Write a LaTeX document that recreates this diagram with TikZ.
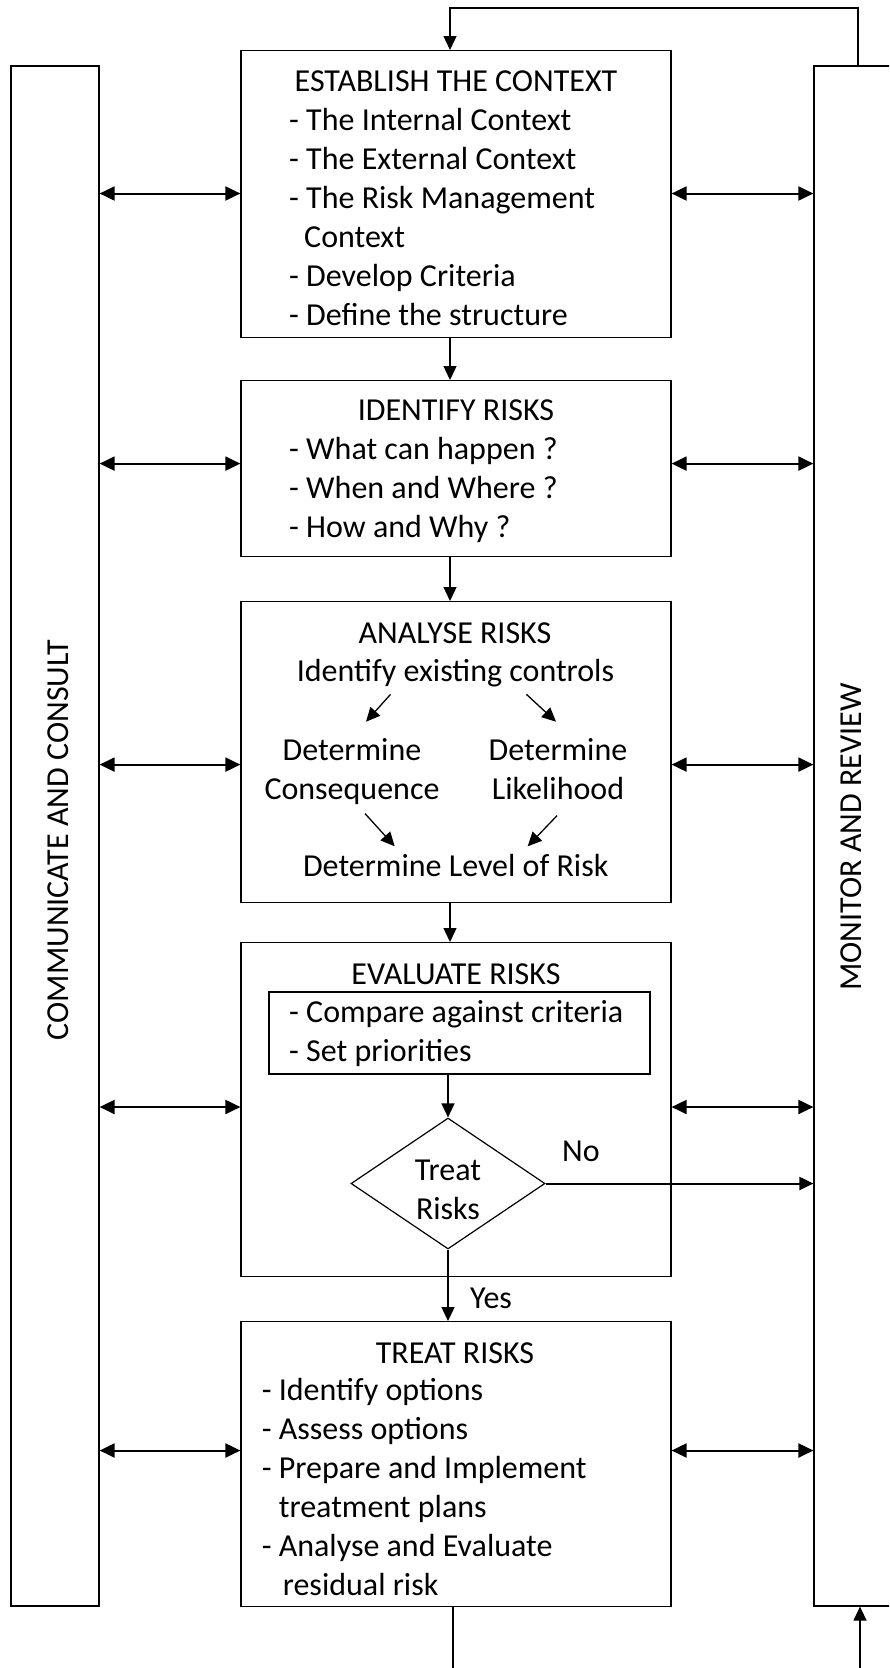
\documentclass[tikz,border=0pt]{standalone}
\usepackage{fontspec}
\setmainfont{Carlito}
\usetikzlibrary{arrows.meta,positioning,calc,shapes.geometric}
\tikzset{
  bodyfont/.style={font=\fontsize{32}{39}\selectfont},
  stagebox/.style={
    draw,
    line width=1.2pt,
    minimum width=430pt,
    inner sep=0pt,
    anchor=north
  },
  sidebar/.style={
    draw,
    line width=1.2pt,
    minimum width=88pt,
    minimum height=1540pt,
    inner sep=0pt
  },
  headtext/.style={bodyfont, inner sep=0pt, anchor=base},
  listtext/.style={bodyfont, inner sep=0pt, align=left, anchor=north west},
  pairtext/.style={bodyfont, inner sep=0pt, align=center, anchor=north},
  decision/.style={
    diamond,
    draw,
    line width=1.2pt,
    inner sep=0pt,
    minimum width=194pt,
    minimum height=131pt
  },
  flowarrow/.style={-{Triangle[length=14pt,width=13pt]}, line width=1.3pt},
  twoway/.style={{Triangle[length=15pt,width=14pt]}-{Triangle[length=15pt,width=14pt]}, line width=2pt}
}

\begin{document}
\begin{tikzpicture}[x=1pt,y=-1pt]
  \path[use as bounding box,clip] (0,0) rectangle (889,1668);

  % side bars
  \node[sidebar] (communicate) at (55,836) {};
  \node[sidebar] (monitor) at (858,836) {};
  \node[bodyfont,rotate=90] (commlabel) at (58,840) {COMMUNICATE AND CONSULT};
  \node[bodyfont,rotate=90] (monlabel) at (851,837) {MONITOR AND REVIEW};

  % process boxes
  \node[stagebox,minimum height=287pt] (context) at (456,50) {};
  \node[stagebox,minimum height=176pt] (identify) at (456,380) {};
  \node[stagebox,minimum height=301pt] (analyse) at (456,601) {};
  \node[stagebox,minimum height=334pt] (evaluate) at (456,942) {};
  \node[stagebox,minimum height=285pt] (treat) at (456,1321) {};

  % establish the context
  \node[headtext] (contexthead) at (456,91.7) {ESTABLISH THE CONTEXT};
  \node[listtext] (contextlist) at (289,102.7)
    {\strut- The Internal Context\\- The External Context\\- The Risk Management\\\hspace*{15pt}Context\\- Develop Criteria\\- Define the structure};

  % identify risks
  \node[headtext] (identifyhead) at (456,420) {IDENTIFY RISKS};
  \node[listtext] (identifylist) at (289,431.7)
    {\strut- What can happen ?\\- When and Where ?\\- How and Why ?};

  % analyse risks
  \node[headtext] (analysehead) at (455,643) {ANALYSE RISKS};
  \node[headtext] (controls) at (455.5,681.7) {Identify existing controls};
  \node[pairtext] (conseq) at (352,732.7) {\strut Determine\\Consequence};
  \node[pairtext] (likely) at (558,732.7) {\strut Determine\\Likelihood};
  \node[headtext] (level) at (455.7,876.7) {Determine Level of Risk};
  \draw[flowarrow] ([xshift=-65pt,yshift=-7pt]controls.south) -- ([xshift=14pt,yshift=11pt]conseq.north);
  \draw[flowarrow] ([xshift=71pt,yshift=-7pt]controls.south) -- ([xshift=-2pt,yshift=11pt]likely.north);
  \draw[flowarrow] ([xshift=13pt,yshift=-9pt]conseq.south) -- ([xshift=-61pt,yshift=8pt]level.north);
  \draw[flowarrow] ([xshift=-1pt,yshift=-16pt]likely.south) -- ([xshift=72pt,yshift=8pt]level.north);

  % evaluate risks
  \node[headtext] (evaluatehead) at (456,984) {EVALUATE RISKS};
  \node[draw,line width=1.2pt,minimum width=381pt,minimum height=82pt,inner sep=0pt] (criteria) at (459.5,1033) {};
  \node[listtext] (criterialist) at (289,995.2)
    {\strut- Compare against criteria\\- Set priorities};
  \node[decision] (check) at (448,1183.5) {};
  \node[pairtext] (checktext) at (448,1152.5) {\strut Treat\\Risks};
  \draw[flowarrow] (criteria.south -| check.north) -- (check.north);
  \draw[flowarrow,line width=2pt] (check.east) -- (check.east -| monitor.west);
  \node[headtext,anchor=base west] (nolabel) at (562,1161.7) {No};
  \draw[flowarrow] (check.south) -- (check.south |- treat.north);
  \node[headtext,anchor=base west] (yeslabel) at (470,1308) {Yes};

  % treat risks
  \node[headtext] (treathead) at (455,1363) {TREAT RISKS};
  \node[listtext] (treatlist) at (261.6,1372.7)
    {\strut- Identify options\\- Assess options\\- Prepare and Implement\\\hspace*{17pt}treatment plans\\- Analyse and Evaluate\\\hspace*{21pt}residual risk};

  % flow between the boxes
  \coordinate (loop) at (450,8);
  \draw[flowarrow] (monitor.north) |- (loop) -- (loop |- context.north);
  \draw[flowarrow] (context.south -| loop) -- (identify.north -| loop);
  \draw[flowarrow] (identify.south -| loop) -- (analyse.north -| loop);
  \draw[flowarrow] (analyse.south -| loop) -- (evaluate.north -| loop);
  \coordinate (outflow) at (453,1680);
  \coordinate (inflow) at (860,1680);
  \draw[line width=1.3pt] (treat.south -| outflow) -- (outflow);
  \draw[flowarrow] (inflow) -- (inflow |- monitor.south);

  % links to the side bars
  \foreach \lv/\y in {a/193.5,b/463.6,c/764.6,d/1107,e/1450.5} {
    \coordinate (lv\lv) at (0,\y);
    \draw[twoway] (communicate.east |- lv\lv) -- (context.west |- lv\lv);
    \draw[twoway] (context.east |- lv\lv) -- (monitor.west |- lv\lv);
  }
\end{tikzpicture}
\end{document}
